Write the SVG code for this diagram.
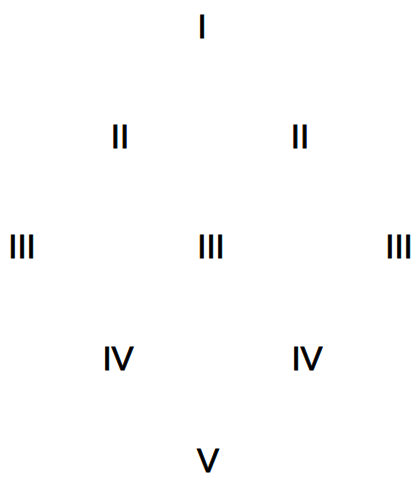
<svg xmlns="http://www.w3.org/2000/svg" width="414" height="480" viewBox="0 0 414 480">
<style>
text{font-family:"Liberation Sans",Arial,sans-serif;font-size:33px;fill:#000;stroke:#000;stroke-width:0.8;text-anchor:middle}
</style>
<rect width="414" height="480" fill="#fff"/>
<g id="connectors"></g>
<g id="n1"><text x="202" y="38">I</text></g>
<g id="n2a"><text x="120" y="148">II</text></g>
<g id="n2b"><text x="300" y="148">II</text></g>
<g id="n3a"><text x="22" y="258">III</text></g>
<g id="n3b"><text x="211" y="258">III</text></g>
<g id="n3c"><text x="399" y="258">III</text></g>
<g id="n4a"><text x="118" y="370">IV</text></g>
<g id="n4b"><text x="307" y="370">IV</text></g>
<g id="n5"><text x="208" y="472">V</text></g>
</svg>
